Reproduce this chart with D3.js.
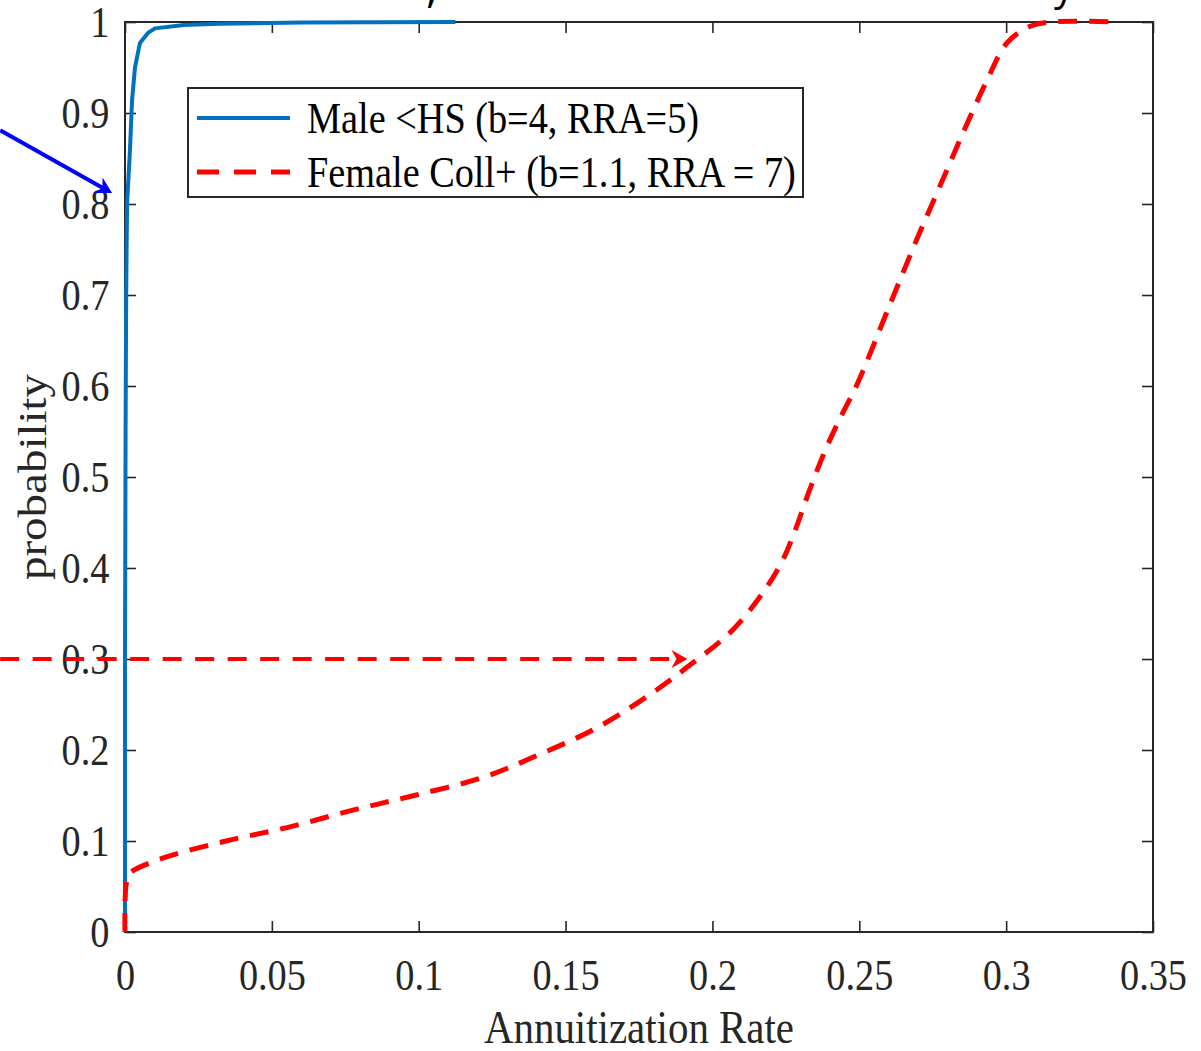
<!DOCTYPE html>
<html>
<head>
<meta charset="utf-8">
<script src="https://cdn.jsdelivr.net/npm/d3@7"></script>
<style>
  body { margin: 0; background: #fff; }
  svg { display: block; }
</style>
</head>
<body>
<div id="chart"></div>
<script>
// CDF of annuitization rate, two groups
var maleX = [0, 0, 0.0002, 0.0004, 0.0007, 0.0017, 0.0024, 0.0034, 0.0051, 0.0078, 0.0102, 0.02, 0.032, 0.06, 0.1125]
var maleP = [0, 0.3, 0.55, 0.7, 0.8, 0.86, 0.914, 0.95, 0.977, 0.988, 0.993, 0.9967, 0.998, 0.9995, 1.0]

var femaleX = [0, 0, 0.0004, 0.0015, 0.003, 0.0136, 0.0344, 0.0555, 0.0776, 0.0984, 0.122, 0.141, 0.161, 0.181, 0.191,
  0.206, 0.217, 0.224, 0.228, 0.233, 0.2385, 0.244, 0.249, 0.2605, 0.2697, 0.2775, 0.2853, 0.2935, 0.3003, 0.308, 0.315, 0.3377]
var femaleP = [0, 0.03, 0.052, 0.064, 0.068, 0.082, 0.1, 0.115, 0.134, 0.15, 0.17, 0.195, 0.225, 0.266, 0.29,
  0.329, 0.372, 0.409, 0.44, 0.485, 0.53, 0.568, 0.6, 0.69, 0.762, 0.82, 0.878, 0.936, 0.977, 0.995, 1.0, 1.0]

var seriesNames = ['Male <HS (b=4, RRA=5)', 'Female Coll+ (b=1.1, RRA = 7)']

var xTickValues = [0, 0.05, 0.1, 0.15, 0.2, 0.25, 0.3, 0.35]
var xTickLabels = ['0', '0.05', '0.1', '0.15', '0.2', '0.25', '0.3', '0.35']
var yTickValues = [0, 0.1, 0.2, 0.3, 0.4, 0.5, 0.6, 0.7, 0.8, 0.9, 1]
var yTickLabels = ['0', '0.1', '0.2', '0.3', '0.4', '0.5', '0.6', '0.7', '0.8', '0.9', '1']

// annotation arrows, in data units [x0, y0, x1, y1]
var blueArrow = [-0.0425, 0.881, -0.0044, 0.812]
var redArrow = [-0.0425, 0.3, 0.1915, 0.3]

var width = 1201
var height = 1051
var margin = { left: 125, right: 48, top: 22, bottom: 119 }
var AXIS = '#262626'
var BLUE = '#0072BD'
var RED = '#FF0000'
var SQUEEZE = 0.87 // picture is stretched vertically

var svg = d3.select('#chart').append('svg')
  .attr('width', width)
  .attr('height', height)

var x = d3.scaleLinear().domain([0, 0.35]).range([margin.left, width - margin.right])
var y = d3.scaleLinear().domain([0, 1]).range([height - margin.bottom, margin.top])

// cut off text at the very top (only descenders are visible)
svg.append('text')
  .attr('x', 426).attr('y', 2)
  .style('font-family', 'Open Sans')
  .style('font-size', '46px')
  .text(',')
svg.append('text')
  .attr('x', 1054).attr('y', 0)
  .style('font-family', 'Open Sans')
  .style('font-size', '40px')
  .text('y')

function styleAxis(g) {
  g.select('.domain').remove()
  g.selectAll('line').attr('stroke', AXIS).attr('stroke-width', 1.6)
  g.selectAll('text')
    .style('font-family', 'Liberation Serif, Times New Roman, serif')
    .style('font-size', '44px')
    .attr('fill', AXIS)
}

var gx = svg.append('g')
  .attr('transform', 'translate(0,' + y(0) + ')')
  .call(d3.axisBottom(x).tickValues(xTickValues)
    .tickFormat(function(d, i) { return xTickLabels[i] })
    .tickSize(-11).tickPadding(36))
styleAxis(gx)
gx.selectAll('text').attr('transform', 'scale(' + SQUEEZE + ',1)').attr('dy', '0.5em')

var gy = svg.append('g')
  .attr('transform', 'translate(' + x(0) + ',0)')
  .call(d3.axisLeft(y).tickValues(yTickValues)
    .tickFormat(function(d, i) { return yTickLabels[i] })
    .tickSize(-11).tickPadding(18))
styleAxis(gy)
gy.selectAll('text').attr('transform', 'scale(' + SQUEEZE + ',1)').attr('dy', '0.34em')

var gt = svg.append('g')
  .attr('transform', 'translate(0,' + y(1) + ')')
  .call(d3.axisTop(x).tickValues(xTickValues).tickFormat('').tickSize(-11))
styleAxis(gt)

var gr = svg.append('g')
  .attr('transform', 'translate(' + x(0.35) + ',0)')
  .call(d3.axisRight(y).tickValues(yTickValues).tickFormat('').tickSize(-11))
styleAxis(gr)

// box
svg.append('rect')
  .attr('x', x(0)).attr('y', y(1))
  .attr('width', x(0.35) - x(0)).attr('height', y(0) - y(1))
  .attr('fill', 'none')
  .attr('stroke', AXIS)
  .attr('stroke-width', 2)

// axis labels
svg.append('text')
  .attr('transform', 'translate(' + (x(0) + x(0.35)) / 2 + ',1043) scale(' + SQUEEZE + ',1)')
  .attr('text-anchor', 'middle')
  .style('font-family', 'Liberation Serif, Times New Roman, serif')
  .style('font-size', '47px')
  .attr('fill', AXIS)
  .text('Annuitization Rate')

svg.append('text')
  .attr('transform', 'translate(46,' + (y(0) + y(1)) / 2 + ') scale(' + SQUEEZE + ',1) rotate(-90)')
  .attr('text-anchor', 'middle')
  .style('font-family', 'Liberation Serif, Times New Roman, serif')
  .style('font-size', '47px')
  .attr('fill', AXIS)
  .text('probability')

// curves
var line = d3.line()
  .x(function(d) { return x(d[0]) })
  .y(function(d) { return y(d[1]) })

var male = d3.zip(maleX, maleP)
var female = d3.zip(femaleX, femaleP)

svg.append('path')
  .datum(male)
  .attr('d', line.curve(d3.curveLinear))
  .attr('fill', 'none')
  .attr('stroke', BLUE)
  .attr('stroke-width', 4)
  .attr('stroke-linejoin', 'round')

svg.append('path')
  .datum(female)
  .attr('d', line.curve(d3.curveCatmullRom.alpha(0.5)))
  .attr('fill', 'none')
  .attr('stroke', RED)
  .attr('stroke-width', 5)
  .attr('stroke-dasharray', '19,12')

// arrows
function arrow(a, color, width, dash) {
  var x0 = x(a[0]), y0 = y(a[1]), x1 = x(a[2]), y1 = y(a[3])
  var ang = Math.atan2(y1 - y0, x1 - x0)
  var len = 16, half = 9, notch = 5
  var bx = x1 - Math.cos(ang) * (len - notch)
  var by = y1 - Math.sin(ang) * (len - notch)
  svg.append('line')
    .attr('x1', x0).attr('y1', y0)
    .attr('x2', bx).attr('y2', by)
    .attr('stroke', color)
    .attr('stroke-width', width)
    .attr('stroke-dasharray', dash)

  var cx = x1 - Math.cos(ang) * len
  var cy = y1 - Math.sin(ang) * len
  var px = -Math.sin(ang), py = Math.cos(ang)
  var pts = [
    [x1, y1],
    [cx + px * half, cy + py * half],
    [bx, by],
    [cx - px * half, cy - py * half]
  ]
  svg.append('path')
    .attr('d', 'M' + pts.join('L') + 'Z')
    .attr('fill', color)
}

arrow(blueArrow, '#0000FF', 4, null)
arrow(redArrow, RED, 4, '19,13.5')

// legend
var legend = svg.append('g')
legend.append('rect')
  .attr('x', 188).attr('y', 88)
  .attr('width', 615).attr('height', 109)
  .attr('fill', '#fff')
  .attr('stroke', AXIS)
  .attr('stroke-width', 2)

var legendRows = [
  { name: seriesNames[0], color: BLUE, w: 4, dash: null },
  { name: seriesNames[1], color: RED, w: 5, dash: '22,15' }
]

legendRows.forEach(function(r, i) {
  var ly = 118 + i * 54
  legend.append('line')
    .attr('x1', 197).attr('x2', 290)
    .attr('y1', ly).attr('y2', ly)
    .attr('stroke', r.color)
    .attr('stroke-width', r.w)
    .attr('stroke-dasharray', r.dash)
  legend.append('text')
    .attr('transform', 'translate(307,' + (ly + 15) + ') scale(' + SQUEEZE + ',1)')
    .style('font-family', 'Liberation Serif, Times New Roman, serif')
    .style('font-size', '44px')
    .attr('fill', '#000')
    .text(r.name)
})
</script>
</body>
</html>
